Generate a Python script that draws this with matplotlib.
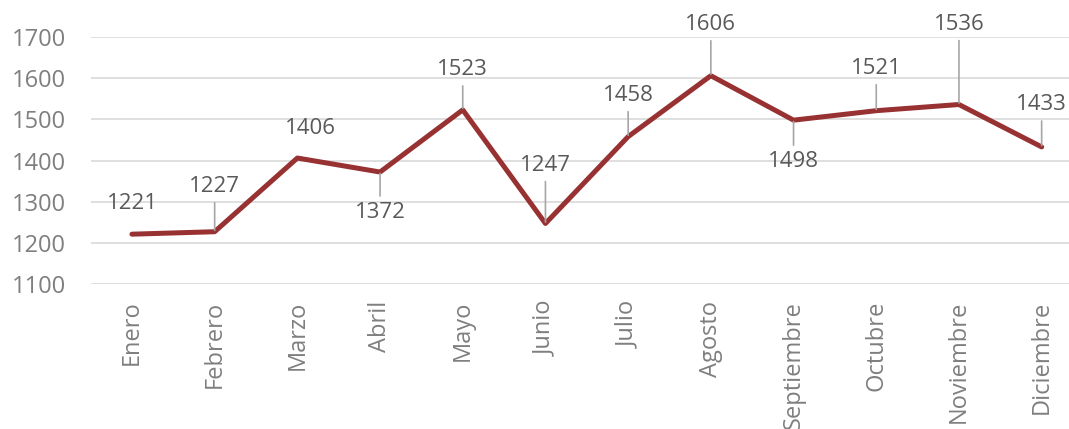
import matplotlib.pyplot as plt

plt.rcParams['font.family'] = ['Open Sans', 'DejaVu Sans']

meses = ['Enero', 'Febrero', 'Marzo', 'Abril', 'Mayo', 'Junio', 'Julio',
         'Agosto', 'Septiembre', 'Octubre', 'Noviembre', 'Diciembre']
valores = [1221, 1227, 1406, 1372, 1523, 1247, 1458, 1606, 1498, 1521, 1536, 1433]

# label placement (pixel offsets from the point) and whether a leader line is drawn
dx_label = [0, 0, 13, 0, 0, 0, 0, 0, 0, 0, 0, 0]
dy_label = [31, 45, 30, -40, 40, 58, 41, 51, -41, 42, 80, 42]
leader = [False, True, False, True, True, True, True, True, True, True, True, True]

fig = plt.figure(figsize=(10.69, 4.29), dpi=100)
ax = fig.add_axes([90.6 / 1069, 1 - 284 / 429, 992.4 / 1069, 247 / 429])

x = list(range(len(meses)))
ax.plot(x, valores, color='#983132', linewidth=3.6, solid_capstyle='round',
        solid_joinstyle='round', zorder=3)

for i, v in enumerate(valores):
    above = dy_label[i] > 0
    props = None
    if leader[i]:
        props = dict(arrowstyle='-', color='#a6a6a6', lw=1.2,
                     shrinkA=2, shrinkB=1,
                     relpos=(0.5, 0.0) if above else (0.5, 1.0))
    ax.annotate(str(v), (i, v), xytext=(dx_label[i], dy_label[i]),
                textcoords='offset pixels', ha='center', va='center',
                fontsize=16, color='#595959', arrowprops=props, zorder=4)

ax.set_xlim(-0.5, len(meses) - 0.5)
ax.set_ylim(1100, 1700)
ax.set_yticks(range(1100, 1701, 100))
ax.set_xticks(x)
ax.set_xticklabels(meses, rotation=90)
ax.grid(axis='y', color='#d9d9d9', linewidth=1.2)
ax.set_axisbelow(True)
for s in ax.spines.values():
    s.set_visible(False)
ax.tick_params(axis='both', length=0, labelsize=17, labelcolor='#7f7f7f')
ax.tick_params(axis='y', pad=18)
ax.tick_params(axis='x', pad=12)

plt.savefig('out.png', dpi=100)
